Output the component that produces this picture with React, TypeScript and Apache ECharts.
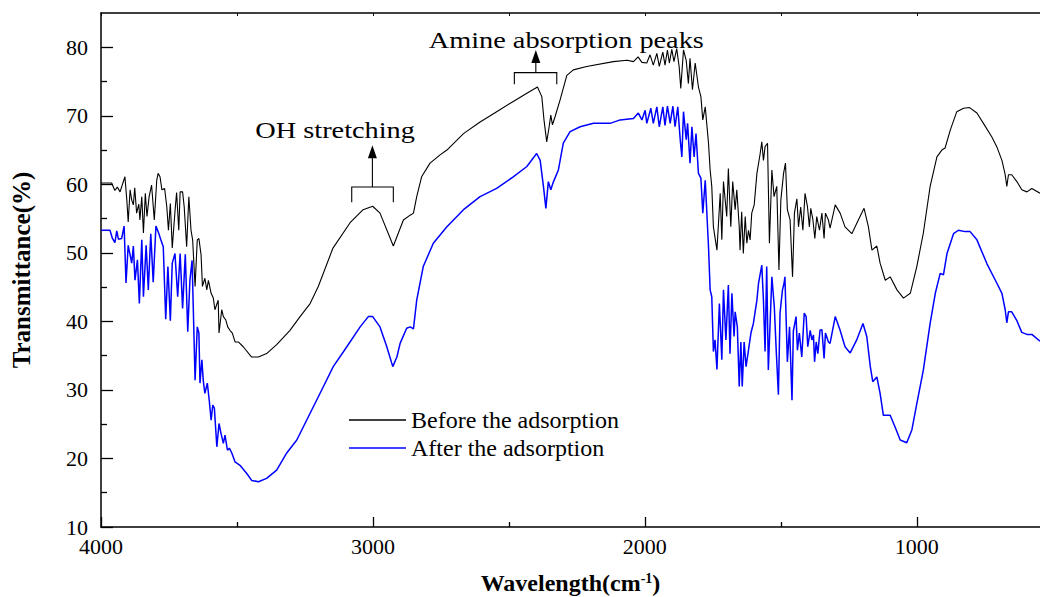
import React, { useEffect, useRef } from "react";
import * as echarts from "echarts";

// Wavenumber (cm-1) and transmittance (%)
const beforeX = [4000,3961,3949,3940,3930,3912,3905,3900,3893,3887,3881,3876,3869,3861,3857,3850,3844,3837,3831,3823,3814,3804,3795,3790,3783,3776,3766,3758,3752,3745,3738,3728,3722,3714,3709,3700,3694,3685,3677,3669,3663,3654,3646,3640,3632,3627,3618,3611,3605,3595,3587,3581,3569,3566,3556,3550,3541,3534,3526,3517,3507,3495,3477,3446,3421,3391,3354,3305,3268,3231,3201,3147,3084,3036,3001,2974,2925,2888,2863,2851,2839,2821,2790,2753,2728,2667,2606,2545,2484,2434,2395,2379,2371,2361,2352,2346,2340,2330,2312,2287,2263,2214,2116,2066,2042,2025,2011,1993,1981,1969,1956,1947,1934,1926,1917,1910,1901,1893,1883,1874,1868,1858,1848,1840,1834,1825,1815,1803,1794,1787,1778,1766,1760,1754,1748,1735,1723,1717,1711,1699,1693,1684,1677,1668,1662,1653,1650,1644,1638,1631,1625,1619,1613,1607,1598,1588,1576,1570,1564,1558,1549,1542,1533,1525,1515,1507,1500,1490,1483,1476,1466,1457,1450,1441,1435,1427,1419,1411,1402,1395,1390,1382,1375,1368,1358,1349,1341,1336,1325,1319,1300,1282,1264,1239,1215,1194,1178,1165,1147,1135,1116,1098,1073,1049,1024,1000,976,951,926,908,896,877,853,828,806,779,755,724,706,687,675,669,663,651,632,614,595,577,547];
const beforeY = [60.2,60.2,59.1,59.6,58.9,61.1,57.7,54.5,59.2,57.7,57.0,59.5,55.8,57.1,54.8,58.2,52.9,58.7,55.3,58.2,59.9,54.8,60.6,61.6,61.1,59.2,59.4,56.7,53.3,57.2,50.7,56.0,58.8,53.3,58.9,58.9,56.7,50.9,58.2,53.3,51.9,45.1,51.9,52.1,49.7,45.1,46.3,44.6,46.0,44.1,43.4,41.7,43.1,38.3,41.7,40.7,40.2,39.2,38.7,38.3,37.0,37.0,36.3,34.8,34.8,35.3,36.6,38.7,40.7,42.6,45.1,50.7,54.4,56.3,56.8,55.8,51.0,54.8,55.5,55.8,58.2,61.1,63.1,64.3,65.0,67.4,69.1,70.6,72.1,73.3,74.2,72.8,69.4,66.2,68.4,70.1,68.7,69.9,72.3,75.9,76.7,77.2,77.9,78.1,77.9,78.6,77.8,77.7,78.9,77.4,79.1,77.2,79.3,77.4,79.6,77.7,79.7,77.9,79.8,77.2,74.0,79.6,78.1,74.7,78.4,73.8,77.7,74.2,72.8,69.4,71.3,66.0,62.1,59.7,53.8,50.4,58.7,51.9,60.4,55.3,62.3,53.8,60.4,56.3,59.2,53.8,50.4,56.0,49.9,55.3,51.4,53.3,51.9,55.8,57.0,61.6,64.5,66.2,63.5,65.5,66.0,51.4,62.1,58.2,59.7,47.5,57.7,61.6,63.1,56.3,54.8,46.5,55.8,57.9,53.8,56.7,53.3,58.7,56.7,53.8,56.5,54.8,52.1,55.3,53.3,55.8,52.1,55.8,54.8,53.6,57.0,55.8,53.8,52.8,54.8,56.5,53.8,50.4,51.0,48.5,46.0,46.5,44.6,43.4,44.1,48.0,52.9,59.7,64.0,65.0,65.3,67.9,70.6,71.1,71.2,70.4,68.9,66.9,65.5,63.5,61.4,59.7,61.4,61.4,60.4,59.2,58.9,59.4,58.7];

const afterX = [4000,3967,3958,3949,3942,3936,3924,3915,3908,3900,3887,3881,3875,3866,3859,3850,3844,3834,3826,3817,3808,3798,3789,3780,3771,3762,3754,3745,3738,3728,3718,3709,3700,3690,3681,3673,3665,3654,3646,3640,3636,3629,3624,3618,3609,3602,3595,3589,3583,3574,3566,3559,3550,3544,3535,3528,3519,3507,3489,3464,3446,3421,3391,3354,3317,3280,3231,3182,3146,3096,3047,3017,3001,2974,2949,2927,2912,2900,2876,2863,2851,2839,2815,2778,2728,2667,2606,2545,2484,2434,2398,2385,2373,2364,2355,2346,2336,2318,2300,2275,2238,2189,2128,2091,2042,2024,2011,1999,1993,1978,1969,1956,1947,1934,1926,1917,1907,1897,1889,1879,1870,1864,1858,1848,1843,1834,1827,1819,1812,1803,1794,1787,1778,1766,1760,1754,1748,1742,1735,1726,1717,1711,1702,1693,1687,1680,1672,1668,1660,1653,1647,1642,1635,1628,1619,1610,1601,1588,1582,1570,1564,1558,1552,1546,1533,1524,1517,1509,1503,1494,1488,1485,1476,1468,1459,1454,1444,1439,1432,1423,1414,1407,1401,1392,1386,1380,1376,1370,1364,1356,1349,1341,1336,1325,1319,1300,1282,1264,1245,1221,1198,1184,1171,1162,1147,1135,1123,1098,1080,1061,1037,1018,1000,976,951,932,914,902,889,865,847,822,804,779,742,706,687,675,669,663,651,632,614,595,577,547];
const afterY = [53.3,53.3,52.1,51.5,53.2,52.0,52.1,53.9,45.6,51.1,48.5,51.0,46.0,49.0,42.6,51.9,43.6,51.1,44.6,52.8,45.7,53.9,53.0,51.9,50.9,40.3,48.0,40.1,48.5,49.9,43.6,49.9,41.9,49.8,38.5,46.0,48.9,31.4,39.2,38.3,31.0,34.4,31.4,29.5,31.0,28.5,25.6,27.8,27.3,21.7,25.1,23.7,22.2,23.4,21.2,21.5,20.8,19.5,19.0,17.8,16.8,16.6,17.1,18.3,20.8,22.7,26.6,30.5,33.4,36.3,39.2,40.7,40.7,39.2,36.3,33.4,34.8,36.8,39.0,39.2,38.9,43.1,48.0,51.4,53.8,56.3,58.2,59.4,61.1,62.6,64.5,63.5,59.7,56.5,60.4,59.2,60.4,62.1,66.0,67.7,68.4,68.9,68.9,69.4,69.6,70.4,69.4,70.8,68.9,71.1,68.9,71.3,68.4,71.3,68.6,71.4,68.9,71.4,68.4,71.3,66.5,64.0,70.6,66.5,68.9,63.1,68.4,64.0,67.4,61.6,60.9,55.8,60.6,50.9,44.6,43.6,35.6,37.3,33.0,42.6,34.4,44.6,37.3,45.3,35.3,44.1,37.8,41.4,39.2,30.5,37.0,30.5,37.0,33.4,35.8,38.3,39.7,43.1,45.6,48.2,43.1,35.6,48.0,32.9,46.5,42.1,35.8,29.3,41.2,44.6,45.6,46.5,34.1,39.2,28.5,38.6,40.7,35.8,38.3,34.8,41.2,40.7,36.3,38.7,37.3,38.0,34.1,37.0,35.3,38.7,38.8,34.6,38.3,37.0,36.8,40.7,38.7,36.3,35.4,37.3,39.7,37.8,33.4,31.2,31.9,29.5,26.3,26.3,24.6,22.7,22.3,24.2,28.0,32.9,39.7,44.1,47.0,46.8,49.9,52.8,53.3,53.1,53.1,51.9,48.4,45.6,44.1,41.7,39.8,41.4,41.4,40.1,38.4,38.1,38.1,37.1];

const seriesNames = ["Before the adsorption", "After the adsorption"];
const xMajorTicks = [1000, 2000, 3000, 4000];
const xMinorTicks = [1500, 2500, 3500];
const xTopTicks = [1000, 1500, 2000, 2500, 3000, 3500, 4000];
const yMajorTicks = [10, 20, 30, 40, 50, 60, 70, 80];
const yMinorTicks = [15, 25, 35, 45, 55, 65, 75];

// Annotations in data coordinates: [bracket left, bracket right, bracket top, leg bottom, arrow x, arrow tip]
const ohBracket = [3078, 2925, 59.6, 57.4, 3002, 65.7];
const amineBracket = [2480, 2324, 76.3, 74.6, 2401, 79.6];
const ohLabel = { text: "OH stretching", pos: [3139, 67.9] };
const amineLabel = { text: "Amine absorption peaks", pos: [2289, 81.0] };

const FONT = "'Liberation Serif', 'Times New Roman', serif";
const X_MIN = 547;
const X_MAX = 4000;

export default function App() {
  const ref = useRef<HTMLDivElement>(null);

  useEffect(() => {
    if (!ref.current) return;
    const chart = echarts.init(ref.current, null, { renderer: "svg" });

    const xBase = {
      type: "value",
      min: X_MIN,
      max: X_MAX,
      inverse: true,
      gridIndex: 0,
      splitLine: { show: false },
    };
    const yBase = {
      type: "value",
      min: 10,
      max: 85,
      gridIndex: 0,
      splitLine: { show: false },
    };

    chart.setOption({
      animation: false,
      backgroundColor: "#ffffff",
      grid: { left: 101, right: 0, top: 13, bottom: 70, containLabel: false, outerBoundsMode: "none" },
      legend: {
        orient: "vertical",
        left: 344,
        top: 403,
        icon: "rect",
        itemWidth: 57,
        itemHeight: 1.5,
        itemGap: 4,
        selectedMode: false,
        data: seriesNames,
        textStyle: { fontFamily: FONT, fontSize: 24, color: "#000", lineHeight: 23 },
      },
      xAxis: [
        {
          ...xBase,
          position: "bottom",
          axisLine: { show: true, lineStyle: { color: "#000", width: 1.5 } },
          axisTick: {
            show: true,
            inside: true,
            length: 10,
            customValues: xMajorTicks,
            lineStyle: { color: "#000", width: 1.3 },
          },
          axisLabel: {
            show: true,
            customValues: xMajorTicks,
            formatter: (v: number) => (v % 1000 === 0 ? String(v) : ""),
            margin: 11,
            lineHeight: 16,
            fontFamily: FONT,
            fontSize: 22,
            color: "#000",
          },
          name: "{n|Wavelength(cm}{s|-1}{n|)}",
          nameLocation: "middle",
          nameGap: 44,
          nameTextStyle: {
            rich: {
              n: { fontFamily: FONT, fontSize: 24, lineHeight: 24, fontWeight: "bold", color: "#000" },
              s: { fontFamily: FONT, fontSize: 14, lineHeight: 24, fontWeight: "bold", color: "#000", verticalAlign: "top" },
            },
          },
        },
        {
          ...xBase,
          position: "bottom",
          axisLine: { show: false },
          axisTick: {
            show: true,
            inside: true,
            length: 5,
            customValues: xMinorTicks,
            lineStyle: { color: "#000", width: 1.3 },
          },
          axisLabel: { show: false },
        },
        {
          ...xBase,
          position: "top",
          axisLine: { show: true, lineStyle: { color: "#000", width: 1.5 } },
          axisTick: {
            show: true,
            inside: true,
            length: 3,
            customValues: xTopTicks,
            lineStyle: { color: "#000", width: 1 },
          },
          axisLabel: { show: false },
        },
      ],
      yAxis: [
        {
          ...yBase,
          interval: 10,
          position: "left",
          axisLine: { show: true, lineStyle: { color: "#000", width: 1.5 } },
          axisTick: {
            show: true,
            inside: true,
            length: 12,
            customValues: yMajorTicks,
            lineStyle: { color: "#000", width: 1.3 },
          },
          axisLabel: {
            show: true,
            customValues: yMajorTicks,
            margin: 13,
            lineHeight: 16,
            fontFamily: FONT,
            fontSize: 22,
            color: "#000",
          },
          name: "Transmittance(%)",
          nameLocation: "middle",
          nameGap: 67,
          nameTextStyle: { fontFamily: FONT, fontSize: 25, fontWeight: "bold", color: "#000" },
        },
        {
          ...yBase,
          position: "left",
          axisLine: { show: false },
          axisTick: {
            show: true,
            inside: true,
            length: 6,
            customValues: yMinorTicks,
            lineStyle: { color: "#000", width: 1.3 },
          },
          axisLabel: { show: false },
        },
      ],
      series: [
        {
          name: seriesNames[0],
          type: "line",
          xAxisIndex: 0,
          yAxisIndex: 0,
          symbol: "none",
          showSymbol: false,
          lineStyle: { color: "#000000", width: 1.1 },
          itemStyle: { color: "#000000" },
          data: beforeX.map((x, i) => [x, beforeY[i]]),
          z: 3,
        },
        {
          name: seriesNames[1],
          type: "line",
          xAxisIndex: 0,
          yAxisIndex: 0,
          symbol: "none",
          showSymbol: false,
          lineStyle: { color: "#0000ff", width: 1.5 },
          itemStyle: { color: "#0000ff" },
          data: afterX.map((x, i) => [x, afterY[i]]),
          z: 2,
        },
      ],
    });

    const toPx = (p: number[]) =>
      chart.convertToPixel({ xAxisIndex: 0, yAxisIndex: 0 }, p) as number[];

    const bracket = (b: number[]) => {
      const [l, r, top, bot, ax, tip] = b;
      const pl = toPx([l, top]);
      const pr = toPx([r, top]);
      const pb = toPx([l, bot]);
      const pa = toPx([ax, top]);
      const pt = toPx([ax, tip]);
      const headH = 13;
      const headW = 4.5;
      return [
        {
          type: "polyline",
          shape: { points: [[pl[0], pb[1]], [pl[0], pl[1]], [pr[0], pr[1]], [pr[0], pb[1]]] },
          style: { stroke: "#000", lineWidth: 1.1, fill: "none" },
        },
        {
          type: "line",
          shape: { x1: pa[0], y1: pa[1], x2: pa[0], y2: pt[1] + headH - 1 },
          style: { stroke: "#000", lineWidth: 1.1 },
        },
        {
          type: "polygon",
          shape: { points: [[pt[0], pt[1]], [pt[0] - headW, pt[1] + headH], [pt[0] + headW, pt[1] + headH]] },
          style: { fill: "#000" },
        },
      ];
    };

    const label = (l: { text: string; pos: number[] }) => {
      const p = toPx(l.pos);
      return {
        type: "text",
        x: p[0],
        y: p[1],
        scaleX: 1.18,
        style: {
          text: l.text,
          fontFamily: FONT,
          fontSize: 24,
          fill: "#000",
          align: "center",
          verticalAlign: "middle",
        },
      };
    };

    chart.setOption({
      graphic: [
        ...bracket(ohBracket),
        ...bracket(amineBracket),
        label(ohLabel),
        label(amineLabel),
      ],
    });

    return () => chart.dispose();
  }, []);

  return (
    <div
      ref={ref}
      style={{ position: "fixed", left: 0, top: 0, width: 1040, height: 597, background: "#fff" }}
    />
  );
}
